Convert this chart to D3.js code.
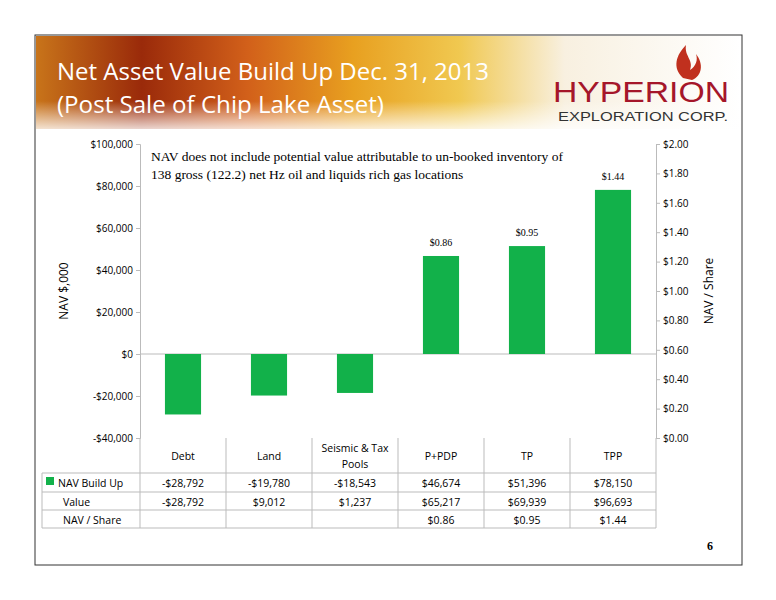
<!DOCTYPE html>
<html><head><meta charset="utf-8">
<script src="https://cdn.jsdelivr.net/npm/d3@7"></script>
<style>body{margin:0;background:#fff}</style></head>
<body><svg id="c" width="776" height="600"></svg>
<script>
const categories=["Debt","Land","Seismic & Tax|Pools","P+PDP","TP","TPP"];
const navBuildUp=[-28792,-19780,-18543,46674,51396,78150];
const valueRow=[-28792,9012,1237,65217,69939,96693];
const navPerShare=[null,null,null,0.86,0.95,1.44];
const leftTicks=[-40000,-20000,0,20000,40000,60000,80000,100000];
const rightTicks=[0,0.2,0.4,0.6,0.8,1.0,1.2,1.4,1.6,1.8,2.0];

const svg=d3.select("#c");
const defs=svg.append("defs");
const g1=defs.append("linearGradient").attr("id","fire").attr("x1",0).attr("x2",1);
[[0,"#c8741a"],[0.15,"#9a2a0a"],[0.3,"#d2601a"],[0.45,"#e8a020"],[0.6,"#f0c850"],[0.75,"#f8f0e0"],[1,"#ffffff"]].forEach(s=>g1.append("stop").attr("offset",s[0]).attr("stop-color",s[1]));
svg.append("rect").attr("x",35).attr("y",35).attr("width",707).attr("height",530).attr("fill","#fff").attr("stroke","#333");
svg.append("rect").attr("x",36).attr("y",36).attr("width",705).attr("height",93).attr("fill","url(#fire)");
const g2=defs.append("linearGradient").attr("id","fade").attr("x1",0).attr("x2",0).attr("y1",0).attr("y2",1);
g2.append("stop").attr("offset",0.7).attr("stop-color","#fff").attr("stop-opacity",0);
g2.append("stop").attr("offset",1).attr("stop-color","#fff").attr("stop-opacity",0.8);
svg.append("rect").attr("x",36).attr("y",36).attr("width",705).attr("height",93).attr("fill","url(#fade)");
const tf="Open Sans, Liberation Sans, sans-serif";
svg.append("text").attr("x",57).attr("y",80).attr("font-family",tf).attr("font-size",24).attr("fill","#fff").attr("textLength",432).attr("lengthAdjust","spacingAndGlyphs").text("Net Asset Value Build Up Dec. 31, 2013");
svg.append("text").attr("x",57).attr("y",113).attr("font-family",tf).attr("font-size",24).attr("fill","#fff").attr("textLength",327).attr("lengthAdjust","spacingAndGlyphs").text("(Post Sale of Chip Lake Asset)");
svg.append("text").attr("x",553).attr("y",102).attr("font-family","Liberation Sans, sans-serif").attr("font-size",29).attr("fill","#a5162a").attr("textLength",176).attr("lengthAdjust","spacingAndGlyphs").text("HYPERION");
svg.append("text").attr("x",558).attr("y",121).attr("font-family","Liberation Sans, sans-serif").attr("font-size",12.5).attr("fill","#333").attr("textLength",170).attr("lengthAdjust","spacingAndGlyphs").text("EXPLORATION CORP.");
svg.append("path").attr("d","M683,78 C672,68 676,55 686,45 C684,56 694,60 690,70 C696,66 698,60 696,54 C704,64 702,76 692,80 Z").attr("fill","#c0301e");

const L=140,R=656,T=144,B=438;
const x=d3.scaleBand().domain(d3.range(6)).range([L,R]).paddingInner(0.58).paddingOuter(0.29);
const y=d3.scaleLinear().domain([-40000,100000]).range([B,T]);
const y2=d3.scaleLinear().domain([0,2]).range([B,T]);
const la=svg.append("g").attr("transform",`translate(${L},0)`).call(d3.axisLeft(y).tickValues(leftTicks).tickFormat(d=>(d<0?"-$":"$")+d3.format(",")(Math.abs(d))).tickSize(4));
const ra=svg.append("g").attr("transform",`translate(${R},0)`).call(d3.axisRight(y2).tickValues(rightTicks).tickFormat(d=>"$"+d.toFixed(2)).tickSize(4));
[la,ra].forEach(a=>{a.selectAll("text").attr("font-family","Open Sans, sans-serif").attr("font-size",10).attr("fill","#000");a.selectAll("line,path").attr("stroke","#bbb");});
svg.append("text").attr("transform","translate(68,291) rotate(-90)").attr("text-anchor","middle").attr("font-family",tf).attr("font-size",12).text("NAV $,000");
svg.append("text").attr("transform","translate(713,291) rotate(-90)").attr("text-anchor","middle").attr("font-family",tf).attr("font-size",12).text("NAV / Share");
svg.append("line").attr("x1",L).attr("x2",R).attr("y1",y(0)).attr("y2",y(0)).attr("stroke","#bbb");
svg.selectAll(".bar").data(navBuildUp).join("rect").attr("x",(d,i)=>x(i)).attr("width",x.bandwidth())
 .attr("y",d=>y(Math.max(0,d))).attr("height",d=>Math.abs(y(d)-y(0))).attr("fill","#12b14a");
svg.selectAll(".lab").data(navPerShare).join("text").filter(d=>d!=null)
 .attr("x",(d,i)=>x(i+3)+x.bandwidth()/2).attr("y",(d,i)=>y(navBuildUp[i+3])-10).attr("text-anchor","middle")
 .attr("font-family","Liberation Serif, serif").attr("font-size",10).text(d=>"$"+d.toFixed(2));
const nf="Liberation Serif, Times New Roman, serif";
svg.append("text").attr("x",151).attr("y",161).attr("font-family",nf).attr("font-size",13.5).text("NAV does not include potential value attributable to un-booked inventory of");
svg.append("text").attr("x",151).attr("y",179).attr("font-family",nf).attr("font-size",13.5).text("138 gross (122.2) net Hz oil and liquids rich gas locations");
const step=x.step(), colEdges=d3.range(7).map(i=>L+i*step);
const rows=[438,473,492,510,528];
const tl=svg.append("g").attr("stroke","#bbb");
colEdges.forEach(cx=>tl.append("line").attr("x1",cx).attr("x2",cx).attr("y1",438).attr("y2",528));
rows.slice(1).forEach(ry=>tl.append("line").attr("x1",42).attr("x2",R).attr("y1",ry).attr("y2",ry));
tl.append("line").attr("x1",42).attr("x2",42).attr("y1",473).attr("y2",528);
const tf2="Open Sans, sans-serif";
categories.forEach((c,i)=>{const parts=c.split("|");const cx=L+step*(i+0.5);
 parts.forEach((p,k)=>svg.append("text").attr("x",cx).attr("y",parts.length>1?452+k*16:460).attr("text-anchor","middle").attr("font-family",tf2).attr("font-size",10.5).text(p));});
const money=v=>(v<0?"-$":"$")+d3.format(",")(Math.abs(v));
const tableRows=[["NAV Build Up",navBuildUp.map(money)],["Value",valueRow.map(money)],["NAV / Share",navPerShare.map(v=>v==null?"":"$"+v.toFixed(2))]];
tableRows.forEach((r,j)=>{const ty=rows[j+1]+14;
 svg.append("text").attr("x",j==0?58:63).attr("y",ty).attr("font-family",tf2).attr("font-size",10.5).text(r[0]);
 r[1].forEach((t,i)=>svg.append("text").attr("x",L+step*(i+0.5)).attr("y",ty).attr("text-anchor","middle").attr("font-family",tf2).attr("font-size",10.5).text(t));});
svg.append("rect").attr("x",46).attr("y",477).attr("width",8).attr("height",8).attr("fill","#12b14a");
svg.append("text").attr("x",713).attr("y",550).attr("text-anchor","end").attr("font-family",nf).attr("font-weight","bold").attr("font-size",12).text("6");
</script></body></html>
